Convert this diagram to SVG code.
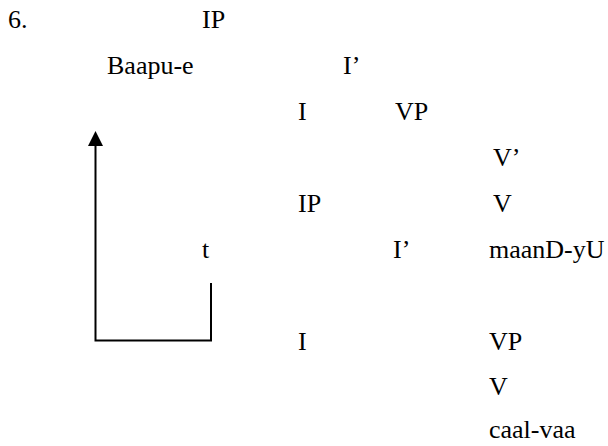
<svg xmlns="http://www.w3.org/2000/svg" width="608" height="446" viewBox="0 0 608 446">
<style>
text{font-family:"Liberation Serif","Times New Roman",serif;font-size:26px;fill:#000}
.ln{stroke:#000;stroke-width:2;fill:none}
</style>
<rect width="608" height="446" fill="#fff"/>
<g id="num"><text x="8" y="28">6.</text></g>
<g id="ip1"><text x="202" y="28">IP</text></g>
<g id="baapu"><text x="107" y="74">Baapu-e</text></g>
<g id="ibar1"><text x="343" y="74">I’</text></g>
<g id="i1"><text x="298" y="120">I</text></g>
<g id="vp1"><text x="395" y="120">VP</text></g>
<g id="vbar"><text x="493" y="166">V’</text></g>
<g id="ip2"><text x="298" y="212">IP</text></g>
<g id="v1"><text x="493" y="212">V</text></g>
<g id="t"><text x="202" y="258">t</text></g>
<g id="ibar2"><text x="393" y="258">I’</text></g>
<g id="maand"><text x="489" y="258">maanD-yU</text></g>
<g id="i2"><text x="298" y="350">I</text></g>
<g id="vp2"><text x="489" y="350">VP</text></g>
<g id="v2"><text x="489" y="395">V</text></g>
<g id="caal"><text x="489" y="438">caal-vaa</text></g>
<g id="connectors">
<polyline class="ln" points="211,283 211,340.5 95.5,340.5 95.5,145"/>
<polygon points="95.5,131 88,146 103,146" fill="#000"/>
</g>
</svg>
